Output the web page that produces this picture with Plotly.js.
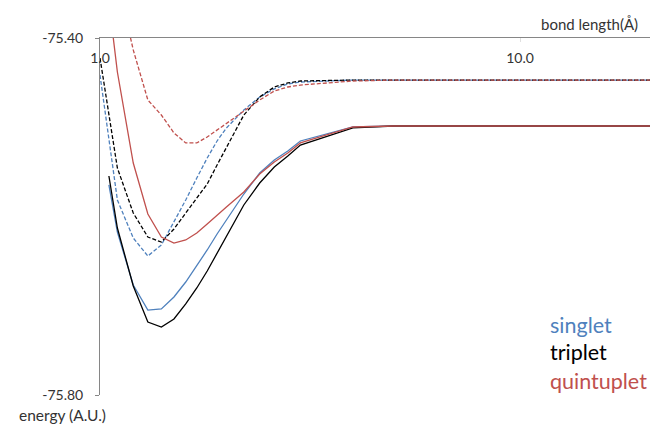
<!DOCTYPE html>
<html><head><meta charset="utf-8">
<script src="https://cdn.plot.ly/plotly-3.0.1.min.js"></script>
<style>html,body{margin:0;padding:0;background:#fff}</style>
</head><body><div id="chart" style="width:650px;height:428px"></div>
<script>
// bond length (Å)
const bondLength = [1.0,1.05,1.1,1.2,1.3,1.4,1.5,1.6,1.7,1.8,1.9,2.0,2.2,2.4,2.6,2.8,3.0,4.0,5.0,6.0,8.0,10.0,15.0,21.0];
// energies (A.U.)
const singletSolid = [null,-75.5647,-75.6174,-75.6768,-75.7048,-75.7036,-75.6902,-75.6734,-75.6555,-75.6375,-75.6196,-75.6039,-75.5748,-75.5513,-75.5367,-75.5266,-75.5154,-75.4997,-75.4986,-75.4986,-75.4986,-75.4986,-75.4986,-75.4986];
const tripletSolid = [null,-75.5546,-75.6129,-75.6779,-75.7182,-75.7238,-75.7148,-75.6980,-75.6801,-75.6611,-75.6409,-75.6230,-75.5871,-75.5625,-75.5445,-75.5322,-75.5199,-75.5008,-75.4986,-75.4986,-75.4986,-75.4986,-75.4986,-75.4986];
const quintupletSolid = [-75.2768,null,-75.4381,-75.5401,-75.5972,-75.6230,-75.6297,-75.6263,-75.6185,-75.6084,-75.5983,-75.5894,-75.5725,-75.5524,-75.5389,-75.5289,-75.5176,-75.4997,-75.4986,-75.4986,-75.4986,-75.4986,-75.4986,-75.4986];
const singletDashed = [-75.4415,null,-75.5815,-75.6241,-75.6443,-75.6319,-75.6062,-75.5815,-75.5569,-75.5345,-75.5154,-75.5008,-75.4807,-75.4661,-75.4571,-75.4515,-75.4493,-75.4471,-75.4471,-75.4471,-75.4471,-75.4471,-75.4471,-75.4471];
const tripletDashed = [-75.4224,null,-75.5457,-75.5961,-75.6230,-75.6286,-75.6140,-75.5961,-75.5793,-75.5636,-75.5423,-75.5232,-75.4863,-75.4661,-75.4549,-75.4504,-75.4482,-75.4471,-75.4471,-75.4471,-75.4471,-75.4471,-75.4471,-75.4471];
const quintupletDashed = [-75.1333,null,-75.3350,-75.4134,-75.4695,-75.4863,-75.5064,-75.5176,-75.5176,-75.5109,-75.5031,-75.4952,-75.4818,-75.4695,-75.4594,-75.4549,-75.4527,-75.4482,-75.4471,-75.4471,-75.4471,-75.4471,-75.4471,-75.4471];

const legendLabels = ['singlet','triplet','quintuplet'];
const xTickVals = [1, 10];
const xTickText = ['1.0', '10.0'];
const yTickVals = [-75.8, -75.4];
const yTickText = ['-75.80', '-75.40'];

const BLUE = '#4F81BD', BLACK = '#000000', RED = '#C0504D';
const DASH = '4px,2px';
const W = 1.3;

function tr(y, color, dash) {
  return {x: bondLength, y: y, type: 'scatter', mode: 'lines', connectgaps: true,
    line: {color: color, width: W, dash: dash || 'solid'}, hoverinfo: 'skip', showlegend: false};
}

const data = [
  tr(singletDashed, BLUE, DASH),
  tr(tripletDashed, BLACK, DASH),
  tr(quintupletDashed, RED, DASH),
  tr(singletSolid, BLUE),
  tr(tripletSolid, BLACK),
  tr(quintupletSolid, RED)
];

const FONT = 'Lato, "Open Sans", sans-serif';
const legendColors = [BLUE, BLACK, RED];
const legendY = [0.196, 0.1204, 0.0392];
const annotations = legendLabels.map((t, i) => ({
  text: t, xref: 'paper', yref: 'paper', x: 0.8145, y: legendY[i],
  xanchor: 'left', yanchor: 'middle', showarrow: false,
  font: {family: FONT, size: 21.5, color: legendColors[i]}
}));
annotations.push({text: 'bond length(Å)', xref: 'paper', yref: 'paper', x: 0.9818, y: 1.0392,
  xanchor: 'right', yanchor: 'middle', showarrow: false, font: {family: FONT, size: 15, color: '#333'}});
annotations.push({text: 'energy (A.U.)', xref: 'paper', yref: 'paper', x: -0.069, y: -0.056,
  xanchor: 'center', yanchor: 'middle', showarrow: false, font: {family: FONT, size: 15.5, color: '#333'}});

const layout = {
  width: 650, height: 428,
  margin: {l: 100, r: 0, t: 38, b: 33, pad: 0},
  paper_bgcolor: '#fff', plot_bgcolor: '#fff',
  font: {family: FONT, size: 14, color: '#333'},
  showlegend: false,
  xaxis: {type: 'log', range: [0, 550/420], side: 'top',
    tickvals: xTickVals, ticktext: xTickText,
    ticklabelposition: 'inside', ticklabeloverflow: 'allow', ticklabelstandoff: 11,
    ticks: 'inside', ticklen: 4, tickcolor: '#e0e0e0',
    showline: true, linecolor: '#868686', linewidth: 1,
    tickfont: {family: FONT, size: 14, color: '#333'},
    showgrid: false, zeroline: false, fixedrange: true},
  yaxis: {range: [-75.8, -75.4], tickvals: yTickVals, ticktext: yTickText,
    ticks: 'outside', ticklen: 4, tickcolor: '#868686', ticklabelstandoff: 9,
    showline: true, linecolor: '#868686', linewidth: 1,
    tickfont: {family: FONT, size: 14, color: '#333'},
    showgrid: false, zeroline: false, fixedrange: true},
  annotations: annotations
};

Plotly.newPlot('chart', data, layout, {staticPlot: true, displayModeBar: false});
</script></body></html>
